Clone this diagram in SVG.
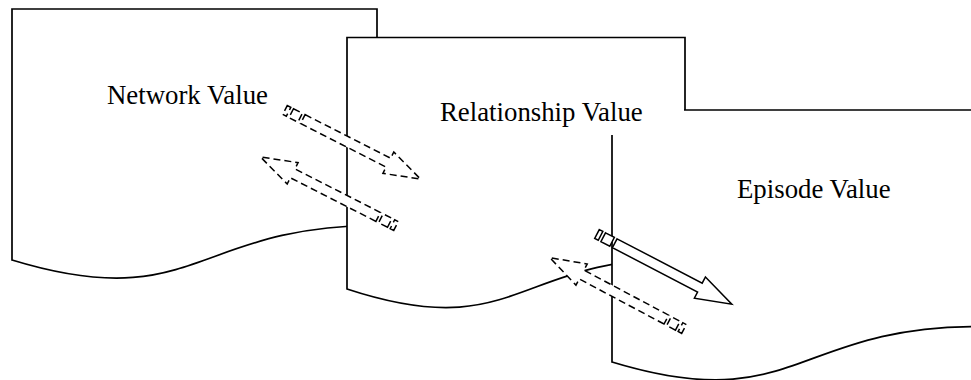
<svg xmlns="http://www.w3.org/2000/svg" width="971" height="380" viewBox="0 0 971 380">
<style>
.doc{fill:#fff;stroke:#000;stroke-width:1.7;stroke-linejoin:miter}
.lbl{font-family:"Liberation Serif","Times New Roman",serif;font-size:26.8px;fill:#000}
.arr{fill:#fff;stroke:#000;stroke-width:1.5;stroke-linejoin:miter}
.dash{stroke-dasharray:7,4}
</style>
<defs>
<path id="striped" d="M0,-5 H4 V5 H0 Z M7,-5 H17 V5 H7 Z M20,-5 H116 V-12 L152,0 L116,12 V5 H20 Z"/>
</defs>
<rect width="971" height="380" fill="#fff"/>
<g id="network-value">
<path class="doc" d="M12,9 H377 V225.5 C194.5,225.5 194.5,315.7 12,260 Z"/>
<text class="lbl" x="107" y="104">Network Value</text>
</g>
<g id="relationship-value">
<path class="doc" d="M347,37.5 H685 V258 C516,258 516,344.6 347,289 Z"/>
</g>
<g id="episode-value">
<path class="doc" d="M612,110 H977 V326.5 C794.5,326.5 794.5,417.5 612,362 Z"/>
<text class="lbl" x="737" y="198">Episode Value</text>
</g>
<g id="relationship-label">
<rect x="436" y="95" width="248" height="40" fill="#fff"/>
<text class="lbl" x="440" y="121">Relationship Value</text>
</g>
<g id="connectors">
<use href="#striped" class="arr dash" transform="translate(285,110) rotate(27)"/>
<use href="#striped" class="arr dash" transform="translate(396,226) rotate(207)"/>
<use href="#striped" class="arr" transform="translate(597,234) rotate(27.5)"/>
<use href="#striped" class="arr dash" transform="translate(684,329) rotate(208)"/>
</g>
</svg>
